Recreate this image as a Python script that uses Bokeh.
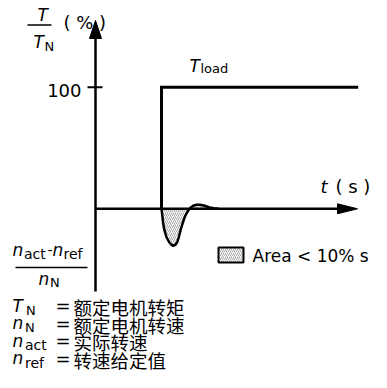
from bokeh.plotting import figure
from bokeh.models import Range1d
from bokeh.core.properties import value
from bokeh.embed import file_html
from bokeh.resources import INLINE

# ---------------- data ----------------
# load torque step, T/TN in %
load_t = [1.0, 1.0, 3.98]
load_pct = [0, 100, 100]

# speed deviation (n_act - n_ref)/n_N, same vertical scale
speed_t = [1.0, 1.015, 1.026, 1.045, 1.076, 1.117, 1.152, 1.171, 1.212, 1.238,
           1.262, 1.288, 1.318, 1.348, 1.379, 1.414, 1.439, 1.480, 1.530, 1.580,
           1.641, 1.717, 1.792, 1.868]
speed_dev = [0, -6.9, -12.3, -17.8, -23.4, -27.5, -29.6, -30.4, -29.6, -27.5,
             -23.4, -17.8, -12.3, -7.4, -3.6, -0.8, 0.8, 2.5, 3.3, 3.3,
             2.7, 1.3, 0.5, 0]

y_ticks = [100]
y_tick_labels = ["100"]

legend_sym = ["T", "n", "n", "n"]
legend_sub = ["N", "N", "act", "ref"]
legend_desc = ["额定电机转矩", "额定电机转速", "实际转速", "转速给定值"]
area_label = "Area < 10% s"

# ---------------- layout helpers (picture pixel -> data) ----------------
SX, SY = 66.0, 1.216
def tx(px):
    return (px - 95.0) / SX
def vy(py):
    return (208.3 - py) / SY

LAT = value("DejaVu Sans")
CJK = value("Noto Sans CJK SC")
TEXT_DY = -6.0   # correction for alphabetic baseline placement

p = figure(width=371, height=372, output_backend="svg", toolbar_location=None,
           x_range=Range1d(tx(0), tx(371)), y_range=Range1d(vy(372), vy(0)),
           min_border=0)
p.axis.visible = False
p.grid.visible = False
p.outline_line_color = None
p.background_fill_color = "white"
p.border_fill_color = "white"

def txt(x, y, s, size="18px", italic=False, font=LAT, align="left", baseline="alphabetic"):
    dy = TEXT_DY if baseline == "alphabetic" else 0.0
    p.text(x=[tx(x)], y=[vy(y + dy)], text=[s], text_font=font, text_font_size=size,
           text_font_style="italic" if italic else "normal", text_align=align,
           text_baseline=baseline, text_color="black")

# ---- top-left fraction T / T_N ( % )
txt(37, 20, "T", "17px", True)
txt(33, 47, "T", "17px", True)
txt(44, 52, "N", "13px")
p.segment(x0=[tx(27)], x1=[tx(51)], y0=[vy(24.5)], y1=[vy(24.5)], line_width=1.6, line_color="black")
txt(63, 28, "( % )", "18px")

# ---- y tick label
for v, lab in zip(y_ticks, y_tick_labels):
    p.text(x=[tx(81)], y=[v], text=[lab], text_font=LAT, text_font_size="18px",
           text_align="right", text_baseline="middle", text_color="black", y_offset=3)
    p.segment(x0=[tx(87)], x1=[tx(102)], y0=[v], y1=[v], line_width=2, line_color="black")

# ---- T_load label
txt(189, 71, "T", "17px", True)
txt(200, 73.5, "load", "13px")

# ---- t ( s )
txt(320, 192, "t", "18px", True)
txt(335, 192, "( s )", "18px")

# ---- lower-left fraction
txt(12, 255, "n", "17px", True)
txt(23.5, 259, "act", "14px")
txt(47, 255, "-", "14px")
txt(52, 255, "n", "17px", True)
txt(63, 259, "ref", "14px")
p.segment(x0=[tx(15)], x1=[tx(87)], y0=[vy(267)], y1=[vy(267)], line_width=1.6, line_color="black")
txt(38, 284, "n", "17px", True)
txt(49.5, 288, "N", "13px")

# ---- legend rows
for i, (s, sub, d) in enumerate(zip(legend_sym, legend_sub, legend_desc)):
    base = 311 + 17.5 * i
    txt(12, base, s, "17px", True)
    txt(24.5 if s == "n" else 25.5, base + 4.5, sub, "14px" if len(sub) > 1 else "13px")
    txt(55, base, "=", "18px")
    txt(73, base - 4.5, d, "18.5px", font=CJK, baseline="middle")

# ---- hatched area legend
p.quad(left=[tx(218)], right=[tx(243)], bottom=[vy(262)], top=[vy(247)],
       fill_color="white", hatch_pattern="/", hatch_color="#808080", hatch_scale=4,
       hatch_weight=0.7, line_color="black", line_width=2)
txt(252, 261, area_label, "17px")

# ---- hatched speed deviation area + curve
p.patch(speed_t, speed_dev, fill_color="white", hatch_pattern="/", hatch_color="#808080",
        hatch_scale=4, hatch_weight=0.7, line_color=None)

# ---- axes with arrow heads
p.line([0, 0], [vy(291), vy(36)], line_width=2.5, line_color="black")
p.patch([0, tx(89), tx(101)], [vy(20), vy(38), vy(38)], fill_color="black", line_color="black")
p.line([0, tx(340)], [0, 0], line_width=2.5, line_color="black")
p.patch([tx(357), tx(337), tx(337)], [0, vy(203.3), vy(213.3)], fill_color="black", line_color="black")

# ---- load step and speed curve
p.line(load_t, load_pct, line_width=3, line_color="black", line_join="miter")
p.line(speed_t, speed_dev, line_width=2.5, line_color="black", line_join="round")

open("out.html", "w").write(file_html(p, INLINE))
